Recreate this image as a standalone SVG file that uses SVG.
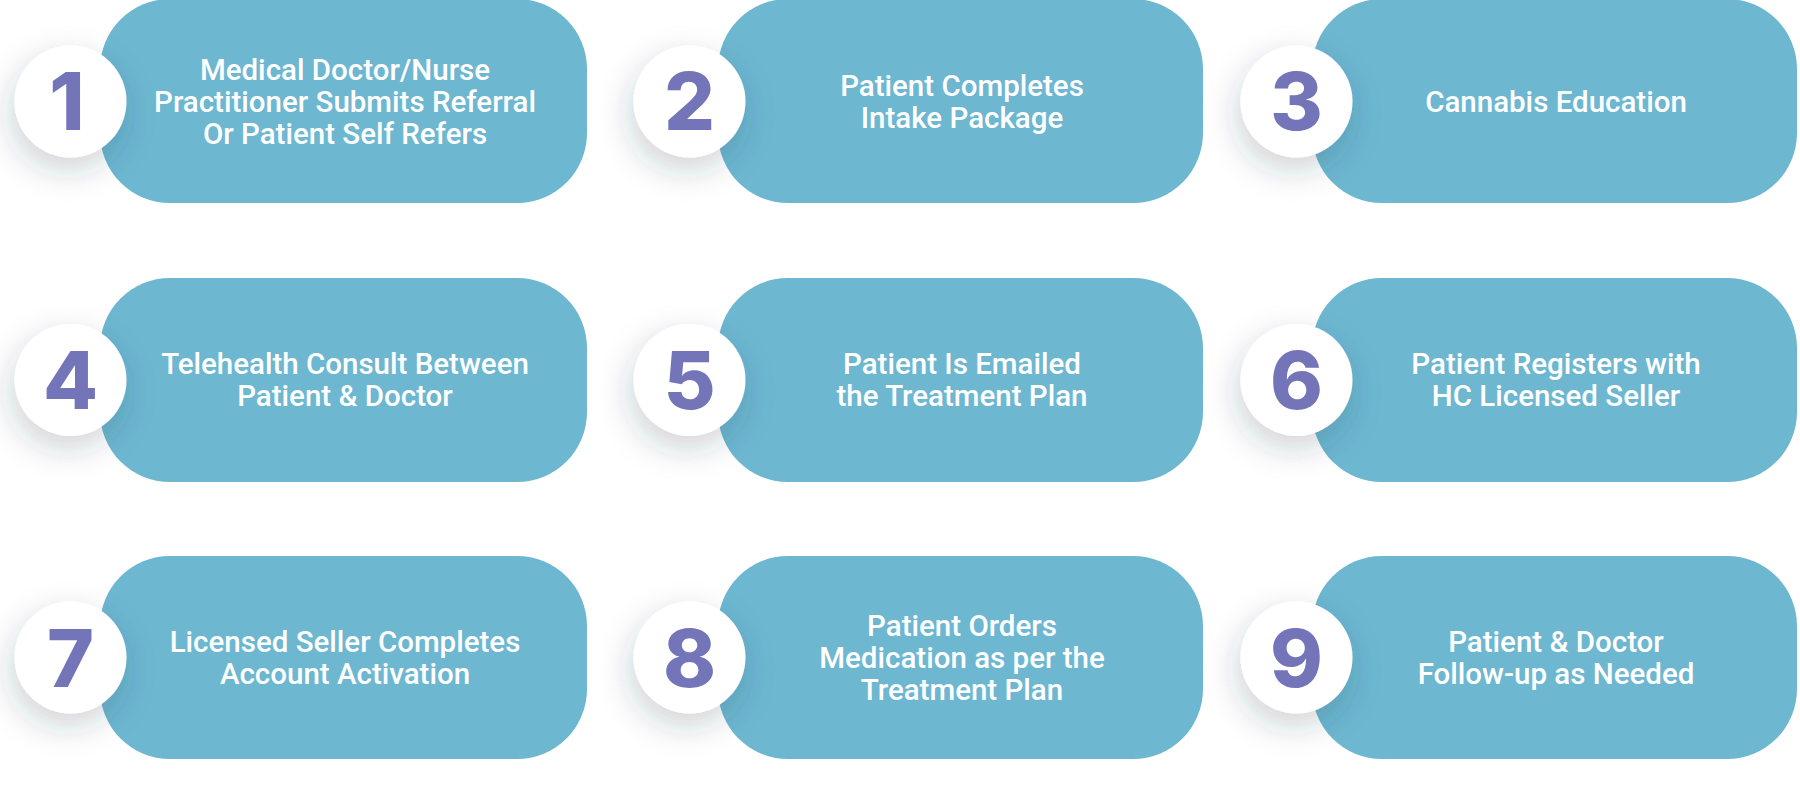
<svg xmlns="http://www.w3.org/2000/svg" width="1800" height="790" viewBox="0 0 1800 790">
  <defs>
    <filter id="sh" x="-80%" y="-80%" width="260%" height="260%">
      <feDropShadow dx="-3" dy="12" stdDeviation="16" flood-color="#1f3a48" flood-opacity="0.22"/>
    </filter>
    <style>
      .pill { fill: #6db7d1; }
      .dot { fill: #ffffff; filter: url(#sh); }
      .num { fill: #7474b8; font-family: Inter, "Noto Sans", sans-serif; font-weight: 800; font-size: 80px; text-anchor: middle; }
      .lbl { fill: #ffffff; font-family: Roboto, "Liberation Sans", sans-serif; font-weight: 500; font-size: 29.5px; text-anchor: middle; }
    </style>
  </defs>
  <rect width="1800" height="790" fill="#ffffff"/>
  <g id="connectors"/>

  <g id="step1">
    <rect class="pill" x="100" y="-1" width="487" height="204" rx="70"/>
    <circle class="dot" cx="70.5" cy="101.5" r="56"/>
    <text class="num" x="67" y="130">1</text>
    <text class="lbl"><tspan x="345" y="79.5">Medical Doctor/Nurse</tspan><tspan x="345" y="111.5">Practitioner Submits Referral</tspan><tspan x="345" y="143.5">Or Patient Self Refers</tspan></text>
  </g>

  <g id="step2">
    <rect class="pill" x="718" y="-1" width="485" height="204" rx="70"/>
    <circle class="dot" cx="689.5" cy="101.5" r="56"/>
    <text class="num" x="689.5" y="130">2</text>
    <text class="lbl"><tspan x="962" y="95.5">Patient Completes</tspan><tspan x="962" y="127.5">Intake Package</tspan></text>
  </g>

  <g id="step3">
    <rect class="pill" x="1312" y="-1" width="485" height="204" rx="70"/>
    <circle class="dot" cx="1296.5" cy="101.5" r="56"/>
    <text class="num" x="1296.5" y="130">3</text>
    <text class="lbl"><tspan x="1556" y="111.5">Cannabis Education</tspan></text>
  </g>

  <g id="step4">
    <rect class="pill" x="100" y="278" width="487" height="204" rx="70"/>
    <circle class="dot" cx="70.5" cy="380" r="56"/>
    <text class="num" x="70.5" y="409">4</text>
    <text class="lbl"><tspan x="345" y="374">Telehealth Consult Between</tspan><tspan x="345" y="406">Patient &amp; Doctor</tspan></text>
  </g>

  <g id="step5">
    <rect class="pill" x="718" y="278" width="485" height="204" rx="70"/>
    <circle class="dot" cx="689.5" cy="380" r="56"/>
    <text class="num" x="689.5" y="409">5</text>
    <text class="lbl"><tspan x="962" y="374">Patient Is Emailed</tspan><tspan x="962" y="406">the Treatment Plan</tspan></text>
  </g>

  <g id="step6">
    <rect class="pill" x="1312" y="278" width="485" height="204" rx="70"/>
    <circle class="dot" cx="1296.5" cy="380" r="56"/>
    <text class="num" x="1296.5" y="409">6</text>
    <text class="lbl"><tspan x="1556" y="374">Patient Registers with</tspan><tspan x="1556" y="406">HC Licensed Seller</tspan></text>
  </g>

  <g id="step7">
    <rect class="pill" x="100" y="556" width="487" height="203" rx="70"/>
    <circle class="dot" cx="70.5" cy="657.5" r="56"/>
    <text class="num" x="70.5" y="686.5">7</text>
    <text class="lbl"><tspan x="345" y="651.5">Licensed Seller Completes</tspan><tspan x="345" y="683.5">Account Activation</tspan></text>
  </g>

  <g id="step8">
    <rect class="pill" x="718" y="556" width="485" height="203" rx="70"/>
    <circle class="dot" cx="689.5" cy="657.5" r="56"/>
    <text class="num" x="689.5" y="686.5">8</text>
    <text class="lbl"><tspan x="962" y="635.5">Patient Orders</tspan><tspan x="962" y="667.5">Medication as per the</tspan><tspan x="962" y="699.5">Treatment Plan</tspan></text>
  </g>

  <g id="step9">
    <rect class="pill" x="1312" y="556" width="485" height="203" rx="70"/>
    <circle class="dot" cx="1296.5" cy="657.5" r="56"/>
    <text class="num" x="1296.5" y="686.5">9</text>
    <text class="lbl"><tspan x="1556" y="651.5">Patient &amp; Doctor</tspan><tspan x="1556" y="683.5">Follow-up as Needed</tspan></text>
  </g>
</svg>
